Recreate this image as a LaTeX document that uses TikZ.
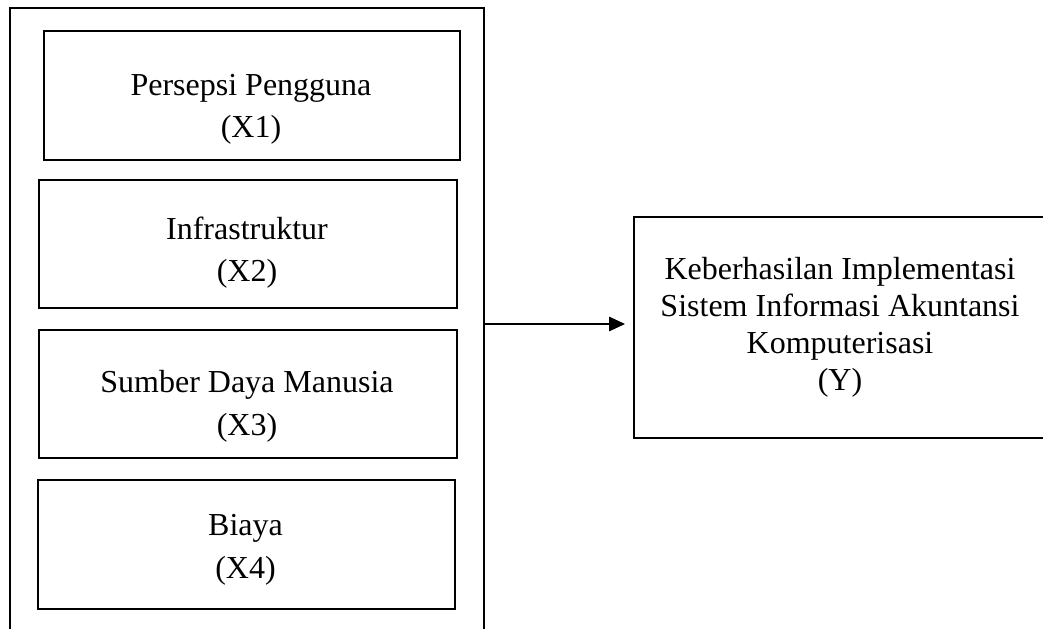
\documentclass[tikz,border=0pt]{standalone}
\usepackage{fontspec}
\setmainfont{Liberation Serif}
\usetikzlibrary{arrows.meta}
\tikzset{
  factor/.style={draw, line width=0.75pt, inner sep=0pt},
  factortext/.style={anchor=base, align=center, inner sep=0pt,
    font=\fontsize{12}{16.1}\selectfont},
  resulttext/.style={anchor=base, align=center, inner sep=0pt,
    font=\fontsize{12}{13.9}\selectfont}
}
\begin{document}
\begin{tikzpicture}[x=0.375pt,y=-0.375pt]
  \useasboundingbox (0,0) rectangle (1043,629);
  % frame round the four factors, open at the bottom
  \draw[line width=0.75pt] (10,629) -- (10,8) -- (484,8) -- (484,629);
  \coordinate (frame) at (484,324);
  \foreach \i/\l/\t/\r/\b/\bl/\txt in {%
      1/43/30/459/159/138/Persepsi Pengguna,
      2/38/179/456/307/282/Infrastruktur,
      3/38/329/456/457/435/Sumber Daya Manusia,
      4/37/479/454/608/578/Biaya} {
    \node[factor, anchor=north west, minimum width={(\r-\l)*0.375pt},
      minimum height={(\b-\t)*0.375pt}] (x\i) at (\l,\t) {};
    \node[factortext] (x\i-txt) at ({(\l+\r)/2},\bl) {\txt\\(X\i)};
  }
  \node[factor, anchor=north west, minimum width=170pt, minimum height={221*0.375pt}]
    (y) at (633,216) {};
  \node[resulttext] (y-txt) at (840,391)
    {Keberhasilan Implementasi\\Sistem Informasi Akuntansi\\Komputerisasi\\(Y)};
  \draw[line width=0.4pt, -{Triangle[length=6pt,width=5.5pt]}, shorten >=3pt]
    (frame) -- (frame -| y.west);
\end{tikzpicture}
\end{document}
